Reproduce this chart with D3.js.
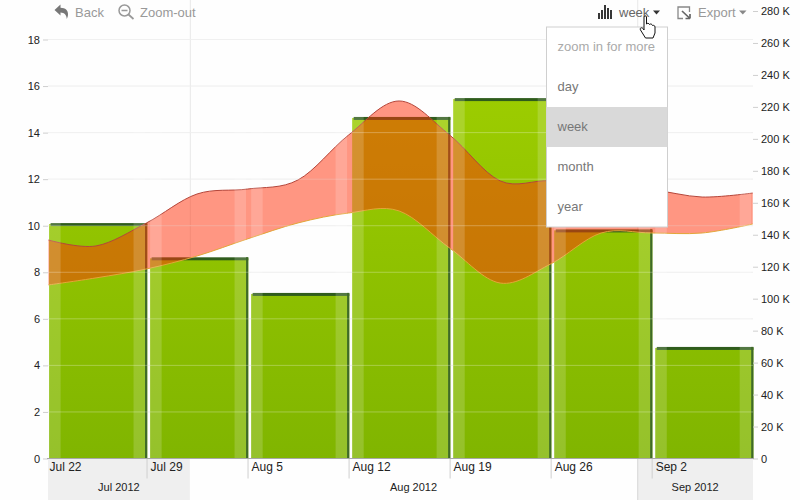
<!DOCTYPE html>
<html><head><meta charset="utf-8">
<script src="https://cdn.jsdelivr.net/npm/d3@7"></script>
<style>
html,body{margin:0;padding:0;background:#fefefe}
svg{display:block;font-family:"Liberation Sans",Arial,sans-serif}
</style></head><body>
<svg id="c" width="800" height="500"></svg>
<script>
const weekLabels = ["Jul 22","Jul 29","Aug 5","Aug 12","Aug 19","Aug 26","Sep 2"];
const weekStarts = ["2012-07-22","2012-07-29","2012-08-05","2012-08-12","2012-08-19","2012-08-26","2012-09-02"];
const barValues = [10.07,8.6,7.07,14.63,15.44,9.8,4.75];
const rangeDays = [0.2,3.5,7,10.5,14,17.5,21,24.5,28,31.5,35,38.5,42,45.5,49];
const rangeHigh = [136.7,133,147.4,165.5,168.6,174.3,202.4,223.7,202.4,173.7,173.7,168,168,163.6,166.1];
const rangeLow  = [108.6,113,118.6,126.7,137.4,147.4,153.6,154.9,131.7,109.8,121.7,141.1,141.1,141.1,146.7];
const leftTicks = [0,2,4,6,8,10,12,14,16,18];
const rightTicks = [0,20,40,60,80,100,120,140,160,180,200,220,240,260,280];
const monthLabels = ["Jul 2012","Aug 2012","Sep 2012"];
const monthStarts = ["2012-07-22","2012-08-01","2012-09-01","2012-09-09"];
const menuItems = ["zoom in for more","day","week","month","year"];

const parse = d3.timeParse("%Y-%m-%d");
const W = 800, H = 500, plotL = 48, plotR = 753, base = 458.5;
const start = parse(weekStarts[0]);
const x = d3.scaleTime().domain([start, parse("2012-09-09")]).range([45.5, 752.7]);
const yL = d3.scaleLinear().domain([0,18]).range([base,39.5]);
const yR = d3.scaleLinear().domain([0,280]).range([base,11]);
const svg = d3.select("#c");
const defs = svg.append("defs");
const g = defs.append("linearGradient").attr("id","bar").attr("x1",0).attr("x2",0)
  .attr("gradientUnits","userSpaceOnUse").attr("y1",99).attr("y2",base);
g.append("stop").attr("offset",0).attr("stop-color","#9ccc00");
g.append("stop").attr("offset",1).attr("stop-color","#80b500");
defs.append("clipPath").attr("id","plot").append("rect")
  .attr("x",plotL).attr("y",0).attr("width",plotR-plotL).attr("height",base);

// month bands under the axis
const mDates = monthStarts.map(parse);
svg.append("rect").attr("x",plotL).attr("y",459).attr("width",x(mDates[1])-plotL).attr("height",41).attr("fill","#efefef");
svg.append("rect").attr("x",x(mDates[2])).attr("y",459).attr("width",plotR-x(mDates[2])).attr("height",41).attr("fill","#efefef");

// horizontal and vertical grid
svg.append("g").selectAll("line").data(leftTicks.slice(1)).join("line")
  .attr("x1",plotL).attr("x2",plotR).attr("y1",d=>yL(d)).attr("y2",d=>yL(d))
  .attr("stroke","#ebebeb");
svg.append("g").selectAll("line").data(mDates.slice(1,3)).join("line")
  .attr("x1",d=>x(d)+.5).attr("x2",d=>x(d)+.5).attr("y1",0).attr("y2",base)
  .attr("stroke","#e8e8e8");

// bars
const wk = weekStarts.map(parse);
const barL = d => x(d)+3.6, barR = d => x(d3.timeDay.offset(d,7))+.7;
const bars = svg.append("g");
bars.selectAll("rect.b").data(wk).join("rect").attr("class","b")
  .attr("x",barL).attr("width",d=>barR(d)-barL(d))
  .attr("y",(d,i)=>yL(barValues[i])).attr("height",(d,i)=>base-yL(barValues[i]))
  .attr("fill","url(#bar)");
bars.selectAll("rect.t").data(wk).join("rect").attr("class","t")
  .attr("x",d=>barL(d)+1.500).attr("width",d=>barR(d)-barL(d)-1.500)
  .attr("y",(d,i)=>yL(barValues[i])-1).attr("height",3).attr("fill","#2f5c1c");
bars.selectAll("rect.r").data(wk).join("rect").attr("class","r")
  .attr("x",d=>barR(d)-2.200).attr("width",2.200)
  .attr("y",(d,i)=>yL(barValues[i])-1).attr("height",(d,i)=>base-yL(barValues[i])+1).attr("fill","#3f6a28");

// range band
const rx = d => x(d3.timeHour.offset(start, Math.round(d*24)));
const idx = d3.range(rangeDays.length);
const curve = d3.curveCatmullRom.alpha(0);
const band = svg.append("g").attr("clip-path","url(#plot)");
band.append("path").attr("d",d3.area().curve(curve).x(i=>rx(rangeDays[i])).y0(i=>yR(rangeLow[i])).y1(i=>yR(rangeHigh[i]))(idx))
  .attr("fill","rgb(255,50,10)").attr("fill-opacity",.51);
band.append("path").attr("d",d3.line().curve(curve).x(i=>rx(rangeDays[i])).y(i=>yR(rangeHigh[i]))(idx))
  .attr("fill","none").attr("stroke","#b5463a").attr("stroke-width",1);
band.append("path").attr("d",d3.line().curve(curve).x(i=>rx(rangeDays[i])).y(i=>yR(rangeLow[i]))(idx))
  .attr("fill","none").attr("stroke","#e3a638").attr("stroke-width",1);

// glossy column stripes
const stripes = svg.append("g").attr("fill","#fff").attr("fill-opacity",.17);
stripes.selectAll("rect.sl").data(wk).join("rect").attr("class","sl")
  .attr("x",barL).attr("width",11.5).attr("y",90).attr("height",base-90);
stripes.selectAll("rect.sr").data(wk).join("rect").attr("class","sr")
  .attr("x",d=>barR(d)-13.7).attr("width",11.5).attr("y",90).attr("height",base-90);

// grid showing through the marks
svg.append("g").selectAll("line").data(leftTicks.slice(1)).join("line")
  .attr("x1",plotL).attr("x2",plotR).attr("y1",d=>yL(d)).attr("y2",d=>yL(d))
  .attr("stroke","#fff").attr("stroke-opacity",.28);

// axes
function style(sel){
  sel.select(".domain").remove();
  sel.selectAll(".tick line").attr("stroke","#cfcfcf");
  sel.selectAll(".tick text").attr("fill","#222").attr("font-size",11).attr("font-family","'Liberation Sans',Arial,sans-serif");
}
svg.append("g").attr("transform",`translate(${plotL},0)`)
  .call(d3.axisLeft(yL).tickValues(leftTicks).tickSize(5).tickPadding(3)).call(style);
svg.append("g").attr("transform",`translate(${plotR},0)`)
  .call(d3.axisRight(yR).tickValues(rightTicks).tickSize(5).tickPadding(3).tickFormat(d=>d===0?"0":d+" K")).call(style);

const xa = svg.append("g").attr("transform",`translate(0,${base})`)
  .call(d3.axisBottom(x).tickValues(wk).tickSize(20).tickFormat((d,i)=>weekLabels[i]));
xa.select(".domain").remove();
xa.selectAll(".tick line").attr("stroke","#cfcfcf").filter((d,i)=>i===0).remove();
xa.selectAll(".tick text").attr("fill","#222").attr("font-size",12).attr("font-family","'Liberation Sans',Arial,sans-serif")
  .attr("text-anchor","start").attr("x",3.5).attr("y",4).attr("dy","0.71em");
svg.append("line").attr("x1",plotL-1).attr("x2",plotR+1).attr("y1",base).attr("y2",base).attr("stroke","#a8a8a8");
svg.append("line").attr("x1",x(mDates[2])+.5).attr("x2",x(mDates[2])+.5).attr("y1",459).attr("y2",500).attr("stroke","#d8d8d8");

const mC = [(plotL+x(mDates[1]))/2,(x(mDates[1])+x(mDates[2]))/2,(x(mDates[2])+plotR)/2];
svg.append("g").selectAll("text").data(monthLabels).join("text")
  .attr("x",(d,i)=>mC[i]).attr("y",491).attr("text-anchor","middle")
  .attr("font-size",11).attr("fill","#222").text(d=>d);

// toolbar
const tb = svg.append("g").attr("font-size",13);
tb.append("path").attr("d","M54.500 10 L60.500 4.500 L60.500 7.700 C65.500 7.700 68 10.500 68 14 C68 16 67.500 17.500 66.800 19 C66.500 15 64.500 12.600 60.500 12.500 L60.500 15.500 Z").attr("fill","#777");
tb.append("text").attr("x",75).attr("y",17).attr("fill","#999").text("Back");
tb.append("circle").attr("cx",124.500).attr("cy",10.500).attr("r",5.500).attr("fill","none").attr("stroke","#999").attr("stroke-width",1.500);
tb.append("path").attr("d","M121.500 10.500 H127.500 M128.500 14.500 L133.500 19").attr("stroke","#999").attr("stroke-width",1.700).attr("fill","none");
tb.append("text").attr("x",140).attr("y",17).attr("fill","#999").text("Zoom-out");

tb.append("path").attr("d","M599 13V19M602 10V19M605 5V19M608 8V19M611 10V19").attr("stroke","#222").attr("stroke-width",1.800);
tb.append("text").attr("x",619).attr("y",17).attr("fill","#666").text("week");
tb.append("path").attr("d","M653 10.500H660L656.500 14.500Z").attr("fill","#333");
tb.append("path").attr("d","M683 18.500H678V7H689.500V12").attr("fill","none").attr("stroke","#888").attr("stroke-width",1.300);
tb.append("path").attr("d","M682 11L690 18.500M690 18.500V14M690 18.500H685.500").attr("fill","none").attr("stroke","#666").attr("stroke-width",1.700);
tb.append("text").attr("x",698).attr("y",17).attr("fill","#999").text("Export");
tb.append("path").attr("d","M739 10.500H746.500L742.750 14.500Z").attr("fill","#888");

// dropdown
const rowH = 40, mX = 546.5, mY = 27, mW = 121;
const menu = svg.append("g");
menu.append("rect").attr("x",mX).attr("y",mY).attr("width",mW).attr("height",rowH*menuItems.length)
  .attr("fill","#fff").attr("stroke","#cfcfcf");
menu.append("rect").attr("x",mX).attr("y",mY+rowH*2).attr("width",mW).attr("height",rowH).attr("fill","#d9d9d9");
menu.selectAll("text").data(menuItems).join("text")
  .attr("x",557.500).attr("y",(d,i)=>mY+rowH*i+23.500).attr("font-size",13)
  .attr("fill",(d,i)=>i===0?"#aaa":"#777").text(d=>d);

// pointer
svg.append("path").attr("d","M644 17 C644 15.500 646.500 15.500 646.500 17 L646.500 24 C647 23 649 23 649.500 24.500 C650.500 23.500 652 24 652.500 25.500 C653.500 25 655 25.500 655 27 L655 33 L653 38 L645.500 38 L640.500 30 C639.500 28 641.500 27 643 28.500 L644 30 Z")
  .attr("fill","#fff").attr("stroke","#111").attr("stroke-width",1);
</script>
</body></html>
